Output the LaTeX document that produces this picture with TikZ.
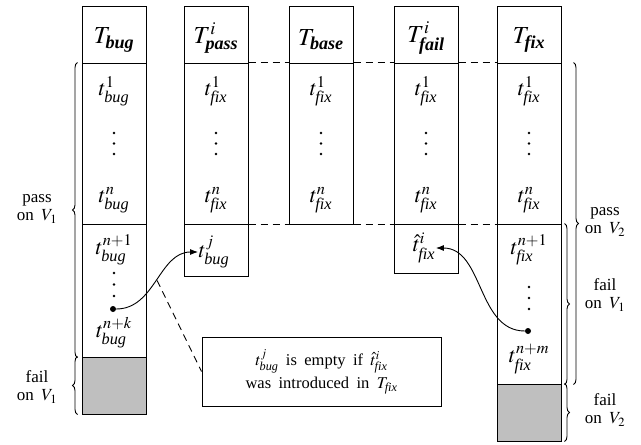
\documentclass[tikz,border=0pt]{standalone}
\usepackage{amsmath}
\usepackage{mathptmx}
\usepackage{fontspec}
\setmainfont{Liberation Serif}
\usetikzlibrary{decorations.pathreplacing,arrows.meta}
\newcommand\mybi[1]{\textbf{\textit{#1}}}
\newcommand\myit[1]{\textit{#1}}
\newcommand\bodyfont{\fontsize{17}{18.5}\selectfont\spaceskip=0.45em plus 0.1em}
\newcommand\notefont{\fontsize{16.5}{23}\selectfont\spaceskip=0.45em plus 0.1em}
\newcommand\cellfont{\fontsize{22}{26}\selectfont}
\newcommand\hdrfont{\fontsize{24.5}{28}\selectfont}
\tikzset{
  sec/.style={draw, line width=1pt, minimum width=64pt, inner sep=0pt},
  hdr/.style={inner sep=0.5pt, font=\hdrfont},
  cellt/.style={inner sep=0.5pt, font=\cellfont},
  lbl/.style={inner sep=0pt, align=center, font=\bodyfont},
  bdot/.style={circle, fill=black, inner sep=0pt, minimum size=6pt},
  dashl/.style={line width=0.9pt, dash pattern=on 7pt off 5pt},
  brc/.style={decorate, decoration={brace, amplitude=5pt}, line width=0.9pt},
  arr/.style={line width=0.9pt, -{Latex[length=8pt,width=6pt]}},
  tbox/.style={draw, line width=1pt, minimum width=239pt, minimum height=69pt, align=center, font=\notefont, inner sep=0pt}
}
\begin{document}
\begin{tikzpicture}[x=1pt,y=-1pt]
\useasboundingbox (0,0) rectangle (641,445);
% ---------- column sections
\node[sec, minimum height=57pt] (bugH) at (114,34.5) {};
\node[sec, minimum height=161pt] (bugM) at (114,143.5) {};
\node[sec, minimum height=133pt] (bugL) at (114,290.5) {};
\node[sec, minimum height=57pt, fill=gray!50] (bugG) at (114,385.5) {};

\node[sec, minimum height=57pt] (passH) at (216,34.5) {};
\node[sec, minimum height=161pt] (passM) at (216,143.5) {};
\node[sec, minimum height=52pt] (passL) at (216,250) {};

\node[sec, minimum height=57pt] (baseH) at (321,34.5) {};
\node[sec, minimum height=161pt] (baseM) at (321,143.5) {};

\node[sec, minimum height=57pt] (failH) at (426,34.5) {};
\node[sec, minimum height=161pt] (failM) at (426,143.5) {};
\node[sec, minimum height=49pt] (failL) at (426,248.5) {};

\node[sec, minimum height=57pt] (fixH) at (529,34.5) {};
\node[sec, minimum height=161pt] (fixM) at (529,143.5) {};
\node[sec, minimum height=160pt] (fixL) at (529,304) {};
\node[sec, minimum height=57pt, fill=gray!50] (fixG) at (529,412.5) {};

% ---------- headers
\node[hdr] (bugHt) at (114,40) {$T_{\mybi{bug}}$};
\node[hdr] (passHt) at (216,38) {$T^{i}_{\mybi{pass}}$};
\node[hdr] (baseHt) at (321,40) {$T_{\mybi{base}}$};
\node[hdr] (failHt) at (426,38) {$T^{i}_{\mybi{fail}}$};
\node[hdr] (fixHt) at (529,40) {$T_{\mybi{fix}}$};

% ---------- upper cells
\node[cellt] (bug1) at (114,91) {$t^{1}_{\myit{bug}}$};
\node[cellt] (bugn) at (114,200) {$t^{n}_{\myit{bug}}$};
\foreach \c/\s in {216/pass,321/base,426/fail,529/fix}{
  \node[cellt] (\s1) at (\c,91) {$t^{1}_{\myit{fix}}$};
  \node[cellt] (\s n) at (\c,200) {$t^{n}_{\myit{fix}}$};
}
\foreach \c in {114,216,321,426,529}{
  \foreach \y in {133,143.5,154}{ \fill (\c,\y) circle (1.3pt); }
}

% ---------- lower cells
\node[cellt] (bugn1) at (114,250) {$t^{n+1}_{\myit{bug}}$};
\foreach \y in {273,284.5,296}{ \fill (114,\y) circle (1.3pt); }
\node[bdot] (d1) at (113,309) {};
\node[cellt] (bugnk) at (114,333) {$t^{n+k}_{\myit{bug}}$};

\node[cellt] (tj) at (214,252) {$t^{j}_{\myit{bug}}$};
\node[cellt] (that) at (424,248) {$\hat{t}^{i}_{\myit{fix}}$};

\node[cellt] (fixn1) at (529,250) {$t^{n+1}_{\myit{fix}}$};
\foreach \y in {287,298,309}{ \fill (529,\y) circle (1.3pt); }
\node[bdot] (d2) at (528,331) {};
\node[cellt] (fixnm) at (529,359) {$t^{n+m}_{\myit{fix}}$};

% ---------- dashed continuations
\draw[dashl] (passM.north east) -- (baseM.north west);
\draw[dashl] (baseM.north east) -- (failM.north west);
\draw[dashl] (failM.north east) -- (fixM.north west);
\draw[dashl] (passM.south east) -- (baseM.south west);
\draw[dashl] (baseM.south east) -- (failM.south west);
\draw[dashl] (failM.south east) -- (fixM.south west);

% ---------- note
\node[tbox] (note) at (321.5,371.5) {$t^{j}_{\myit{bug}}$ is empty if $\hat{t}^{i}_{\myit{fix}}$\\was introduced in $T_{\myit{fix}}$};

% ---------- arrows
\draw[arr] (d1) to[out=0,in=180] coordinate[pos=0.5] (c1mid) (tj.west);
\draw[dashl] (c1mid) -- (note.west);
\draw[arr] (d2) to[out=180,in=0] (that.east);

% ---------- braces
\draw[brc] ([xshift=-4pt]bugL.south west) -- ([xshift=-4pt]bugM.north west);
\draw[brc] ([xshift=-4pt]bugG.south west) -- ([xshift=-4pt]bugG.north west);
\draw[brc] ([xshift=12pt]fixM.north east) -- ([xshift=12pt]fixL.south east);
\draw[brc] ([xshift=3pt]fixL.north east) -- ([xshift=3pt]fixL.south east);
\draw[brc] ([xshift=3pt]fixG.north east) -- ([xshift=3pt]fixG.south east);

% ---------- brace labels
\node[lbl] (lpass1) at (37,209) {pass\\on $V_1$};
\node[lbl] (lfail1) at (37,387) {fail\\on $V_1$};
\node[lbl] (rpass2) at (605,222) {pass\\on $V_2$};
\node[lbl] (rfail1) at (605,295) {fail\\on $V_1$};
\node[lbl] (rfail2) at (605,410) {fail\\on $V_2$};
\end{tikzpicture}
\end{document}
